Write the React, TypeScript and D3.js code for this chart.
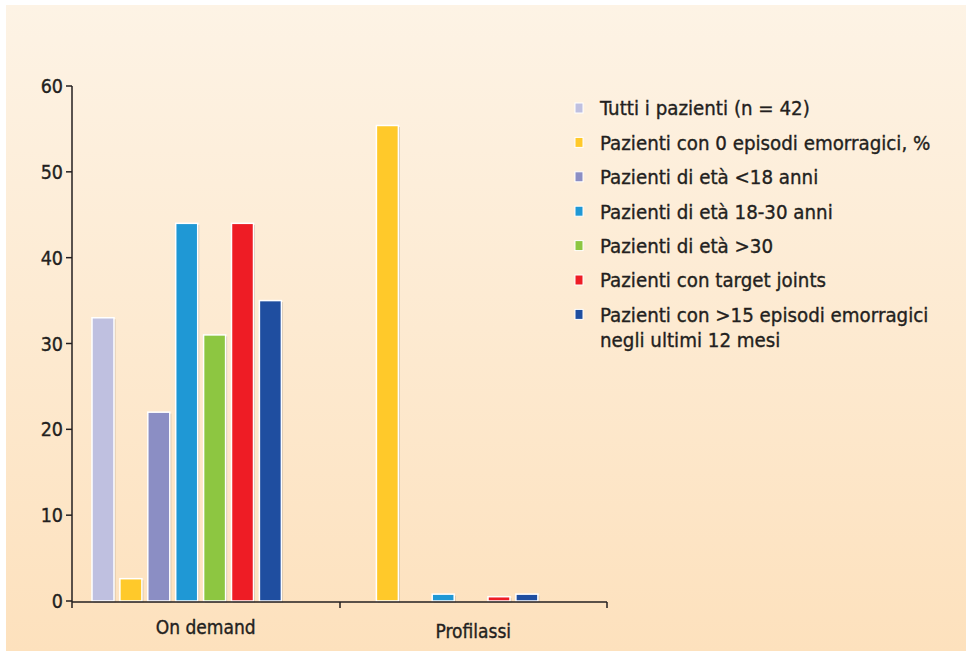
import React from "react";
import * as d3 from "d3";

const groups = ["On demand", "Profilassi"];
const seriesNames = [
  "Tutti i pazienti (n = 42)",
  "Pazienti con 0 episodi emorragici, %",
  "Pazienti di età <18 anni",
  "Pazienti di età 18-30 anni",
  "Pazienti di età >30",
  "Pazienti con target joints",
  "Pazienti con >15 episodi emorragici\nnegli ultimi 12 mesi",
];
const seriesColors = ["#bfc0e0", "#ffc92a", "#8b8ec4", "#1f98d5", "#8dc641", "#ee1c25", "#1f4ea0"];
const onDemandValues = [33, 2.6, 22, 44, 31, 44, 35];
const profilassiValues = [null, 55.4, null, 0.8, null, 0.5, 0.8];
const yTicks = [0, 10, 20, 30, 40, 50, 60];

const W = 966;
const H = 654;
const FONT = "'DejaVu Sans Condensed', 'DejaVu Sans', sans-serif";
const TXT = { fontFamily: FONT, fill: "#231f20", stroke: "#231f20", strokeWidth: 0.35 };

export default function App() {
  const values = [onDemandValues, profilassiValues];
  const y = d3.scaleLinear().domain([0, 60]).range([601, 86]);
  // axis scale (ticks and labels)
  const xAxis = d3.scaleBand<string>().domain(groups).range([72, 607]).paddingInner(0).paddingOuter(0);
  // bar group scale
  const x0 = d3.scaleBand<string>().domain(groups).range([63, 576]).paddingInner(0).paddingOuter(0);
  const step = 27.9;
  const bw = 22;
  const x1 = d3
    .scaleBand<number>()
    .domain(d3.range(seriesNames.length))
    .range([29, 29 + step * (7 - (1 - bw / step))])
    .paddingInner(1 - bw / step)
    .paddingOuter(0);

  return (
    <svg width={W} height={H} style={{ position: "absolute", left: 0, top: 0 }}>
      <defs>
        <linearGradient id="bg" x1="0" y1="0" x2="0" y2="1">
          <stop offset="0" stopColor="#fdf3e5" />
          <stop offset="1" stopColor="#fde1bd" />
        </linearGradient>
      </defs>
      <rect x={0} y={0} width={W} height={H} fill="#ffffff" />
      <rect x={6} y={5} width={W - 6} height={H - 8} fill="url(#bg)" />

      {/* bars */}
      {groups.map((g, gi) =>
        values[gi].map((v, si) => {
          if (v === null) return null;
          const bx = (x0(g) as number) + (x1(si) as number);
          const w = x1.bandwidth();
          const top = y(v);
          const h = y(0) - top;
          return (
            <g key={`${gi}-${si}`}>
              <rect x={bx + 1.5} y={top + 1.5} width={w} height={h} fill="#8a7f70" opacity={0.35} />
              <rect x={bx} y={top} width={w} height={h} fill={seriesColors[si]} stroke="#ffffff" strokeWidth={1.5} />
            </g>
          );
        })
      )}

      {/* y axis */}
      <line x1={72} x2={72} y1={86} y2={602} stroke="#231f20" strokeWidth={1.5} />
      {yTicks.map((t) => (
        <g key={t}>
          <line x1={66} x2={72} y1={y(t)} y2={y(t)} stroke="#231f20" strokeWidth={1.5} />
          <text x={63} y={y(t)} dy="0.36em" textAnchor="end" fontSize={19.5} {...TXT}>
            {t}
          </text>
        </g>
      ))}

      {/* x axis */}
      <line x1={72} x2={607} y1={602} y2={602} stroke="#231f20" strokeWidth={1.5} />
      {[72, 340, 607].map((tx) => (
        <line key={tx} x1={tx} x2={tx} y1={602} y2={608} stroke="#231f20" strokeWidth={1.5} />
      ))}
      {groups.map((g) => (
        <text
          key={g}
          x={(xAxis(g) as number) + xAxis.bandwidth() / 2}
          y={g === "On demand" ? 634 : 638}
          textAnchor="middle"
          fontSize={19}
          {...TXT}
        >
          {g}
        </text>
      ))}

      {/* legend */}
      {seriesNames.map((name, i) => {
        const cy = 108 + i * 34.4;
        const lines = name.split("\n");
        return (
          <g key={name}>
            <rect x={575} y={cy - 5} width={8} height={10} fill={seriesColors[i]} stroke="#ffffff" strokeWidth={1} />
            {lines.map((ln, li) => (
              <text key={li} x={600} y={cy + li * 25} dy="0.36em" fontSize={20.3} {...TXT}>
                {ln}
              </text>
            ))}
          </g>
        );
      })}
    </svg>
  );
}
